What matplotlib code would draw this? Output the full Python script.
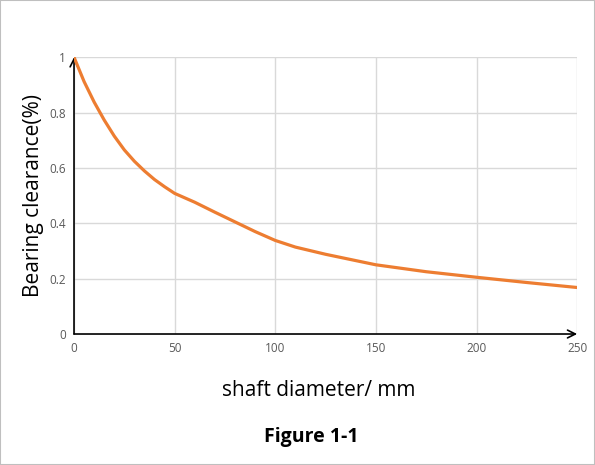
import matplotlib
matplotlib.use("Agg")
import matplotlib.pyplot as plt

diameter = [0, 5, 10, 15, 20, 25, 30, 35, 40, 45, 50, 60, 70, 80, 90, 100, 110, 125,
            150, 175, 200, 225, 250]
clearance = [1.0, 0.912, 0.838, 0.773, 0.715, 0.665, 0.624, 0.589, 0.558, 0.532, 0.508,
             0.476, 0.44, 0.405, 0.37, 0.338, 0.314, 0.288, 0.25, 0.225, 0.205, 0.186, 0.168]
xticks = [0, 50, 100, 150, 200, 250]
yticks = [0, 0.2, 0.4, 0.6, 0.8, 1.0]
ytick_labels = ["0", "0.2", "0.4", "0.6", "0.8", "1"]

plt.rcParams['font.family'] = ['Open Sans', 'DejaVu Sans']

fig = plt.figure(figsize=(5.95, 4.65), dpi=100)
fig.patch.set_facecolor('white')
fig.patches.append(plt.Rectangle((0, 0), 1, 1, transform=fig.transFigure,
                                 fill=False, edgecolor='#bfbfbf', linewidth=1.5))

ax = fig.add_axes([0.1244, 0.2817, 0.8456, 0.5953])
ax.plot(diameter, clearance, color='#ED7D31', linewidth=2.3, zorder=3,
        solid_capstyle='round', solid_joinstyle='round')
ax.set_xlim(0, 250)
ax.set_ylim(0, 1)
ax.set_xticks(xticks)
ax.set_yticks(yticks)
ax.set_yticklabels(ytick_labels)
ax.grid(True, color='#d9d9d9', linewidth=1)
for s in ax.spines.values():
    s.set_visible(False)
ax.tick_params(length=0, labelsize=8.5, labelcolor='#595959', pad=6)

ax.annotate('', xy=(1.0, 0), xytext=(0, 0), xycoords='axes fraction',
            arrowprops=dict(arrowstyle='->', color='black', lw=1.2, mutation_scale=14,
                            shrinkA=0, shrinkB=0), zorder=4, annotation_clip=False)
ax.annotate('', xy=(0, 1.0), xytext=(0, 0), xycoords='axes fraction',
            arrowprops=dict(arrowstyle='->', color='black', lw=1.2, mutation_scale=14,
                            shrinkA=0, shrinkB=0), zorder=2, annotation_clip=False)

ax.set_ylabel('Bearing clearance(%)', fontsize=15, labelpad=4)
fig.text(0.535, 0.16, 'shaft diameter/ mm', fontsize=15, ha='center', va='center')
fig.text(0.523, 0.06, 'Figure 1-1', fontsize=14, fontweight='bold', ha='center', va='center')

fig.savefig('out.png', dpi=100)
